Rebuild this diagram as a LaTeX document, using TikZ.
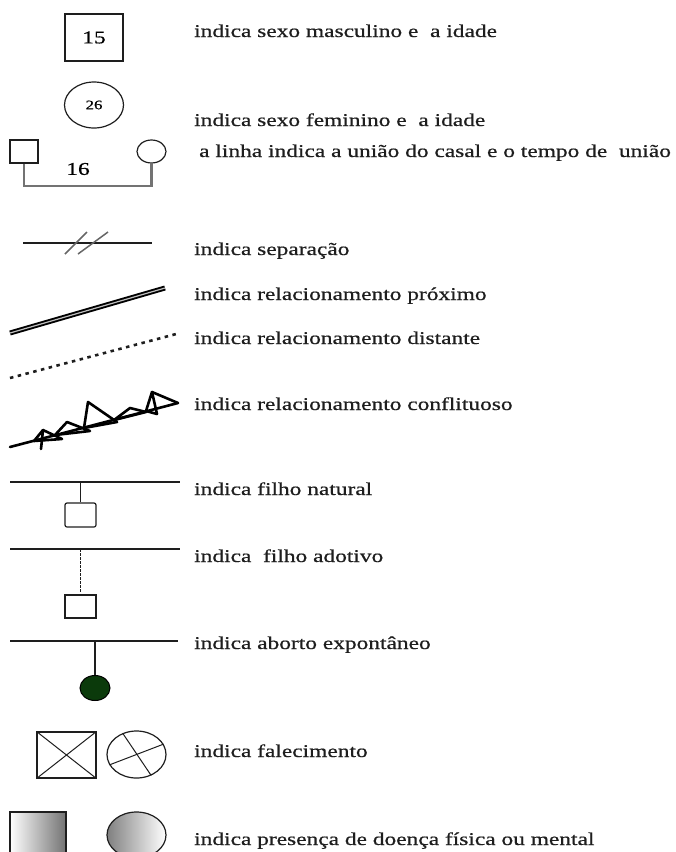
\documentclass[tikz,border=0pt]{standalone}
\usepackage{fontspec}
\setmainfont{Liberation Serif}[FakeStretch=1.3,FakeBold=0.6]
\usepackage{xcolor}
\usepackage{tikz}
\usetikzlibrary{shapes.geometric}
\definecolor{abortgreen}{HTML}{0B3A0B}
\definecolor{ink}{HTML}{1E1E1E}

\begin{document}
\begin{tikzpicture}[
  x=1pt, y=-1pt,
  font=\fontsize{18}{21}\selectfont,
  lbl/.style  ={anchor=base west, inner sep=0pt, text=ink},
  msq/.style  ={draw=ink, line width=1.2pt, inner sep=0pt},
  fel/.style  ={ellipse, draw=ink, line width=1.2pt, inner sep=0pt},
  ln/.style   ={draw=ink, line width=1.2pt},
  union/.style={draw=black!55, line width=2.2pt},
  slash/.style={draw=black!60, line width=1.5pt},
  close/.style={draw=black, double=black!25, double distance=1.2pt, line width=1.9pt},
  dist/.style ={draw=ink, line width=2.6pt, dash pattern=on 3.5pt off 4.5pt},
  conf/.style ={draw=black, line width=2.6pt, line join=round, line cap=round}
]
\useasboundingbox (0,0) rectangle (676,852);

% ---------- sexo e idade ----------
\node[msq, minimum width=58pt, minimum height=47pt] (masc) at (94,37.5) {15};
\node[lbl] (tmasc) at (194,37) {indica sexo masculino e\ \ a idade};

\node[fel, minimum width=59pt, minimum height=46pt, font=\fontsize{13}{15}\selectfont]
  (fem) at (94,105) {26};
\node[lbl] (tfem) at (194,126) {indica sexo feminino e\ \ a idade};

% ---------- casal ----------
\node[msq, minimum width=28pt, minimum height=23pt] (cm) at (24,151.5) {};
\node[fel, minimum width=29pt, minimum height=23pt] (cf) at (151.5,151.5) {};
\draw[union] (cm.south) -- ++(0,22) -| (cf.south);
\node[inner sep=0pt] (tempo) at (78,169) {16};
\node[lbl] (tunion) at (199,157) {a linha indica a união do casal e o tempo de\ \ união};

% ---------- separacao ----------
\coordinate (sepL) at (23,243);
\coordinate (sepR) at (152,243);
\draw[ln] (sepL) -- (sepR);
\coordinate (s1a) at (65,254);  \coordinate (s1b) at (87,232);
\coordinate (s2a) at (78,254);  \coordinate (s2b) at (108,232);
\draw[slash] (s1a) -- (s1b);
\draw[slash] (s2a) -- (s2b);
\node[lbl] (tsep) at (194,255) {indica separação};

% ---------- relacionamentos ----------
\coordinate (prA) at (10,333);
\coordinate (prB) at (165,288);
\draw[close] (prA) -- (prB);
\node[lbl] (tprox) at (194,300) {indica relacionamento próximo};

\coordinate (diA) at (10,378);
\coordinate (diB) at (180,333);
\draw[dist] (diA) -- (diB);
\node[lbl] (tdist) at (194,344) {indica relacionamento distante};

\coordinate (coA) at (10,447);
\coordinate (coB) at (178,403);
\draw[conf] (coA) -- (coB);
% the little loops along the line
\draw[conf] (34,441) -- (43,430) -- (62,439) -- cycle;
\draw[conf] (43,430) -- (41,449);
\draw[conf] (55,435) -- (67,422) -- (90,431) -- cycle;
\draw[conf] (84,428) -- (88,402) -- (117,422) -- cycle;
\draw[conf] (114,420) -- (130,408) -- (146,412) -- cycle;
\draw[conf] (146,411) -- (152,392) -- (157,414) -- cycle;
\draw[conf] (152,392) -- (coB);
\node[lbl] (tconf) at (194,410) {indica relacionamento conflituoso};

% ---------- filhos ----------
\coordinate (naL) at (10,482);
\coordinate (naR) at (180,482);
\draw[ln] (naL) -- (naR);
\node[msq, rounded corners=2pt, minimum width=31pt, minimum height=24pt] (nat) at (80.5,515) {};
\draw[ln] (nat.north |- naL) -- (nat.north);
\node[lbl] (tnat) at (194,495) {indica filho natural};

\coordinate (adL) at (10,549);
\coordinate (adR) at (180,549);
\draw[ln] (adL) -- (adR);
\node[msq, minimum width=31pt, minimum height=23pt] (adot) at (80.5,606.5) {};
\draw[ln, dash pattern=on 2.5pt off 1.5pt] (adot.north |- adL) -- ([yshift=2pt]adot.north);
\node[lbl] (tadot) at (194,562) {indica\ \ filho adotivo};

% ---------- aborto ----------
\coordinate (abL) at (10,641);
\coordinate (abR) at (178,641);
\draw[ln] (abL) -- (abR);
\node[ellipse, draw=black, fill=abortgreen, line width=1pt, inner sep=0pt,
  minimum width=30pt, minimum height=25pt] (abor) at (95,688) {};
\draw[ln] (abor.north |- abL) -- (abor.north);
\node[lbl] (tabor) at (194,649) {indica aborto expontâneo};

% ---------- falecimento ----------
\node[msq, minimum width=59pt, minimum height=46pt] (mdead) at (66.5,755) {};
\draw[ln, line width=1pt] (mdead.north west) -- (mdead.south east);
\draw[ln, line width=1pt] (mdead.south west) -- (mdead.north east);
\node[fel, minimum width=59pt, minimum height=47pt] (fdead) at (136.5,754.5) {};
\draw[ln, line width=1pt] (fdead.123) -- (fdead.-55);
\draw[ln, line width=1pt] (fdead.201) -- (fdead.21);
\node[lbl] (tdead) at (194,757) {indica falecimento};

% ---------- doenca ----------
\node[msq, left color=white, right color=black!55, minimum width=56pt, minimum height=47pt]
  (msick) at (38,835.5) {};
\node[fel, left color=black!50, right color=white, minimum width=59pt, minimum height=46pt]
  (fsick) at (136.5,835) {};
\node[lbl] (tsick) at (194,845) {indica presença de doença física ou mental};
\end{tikzpicture}
\end{document}
